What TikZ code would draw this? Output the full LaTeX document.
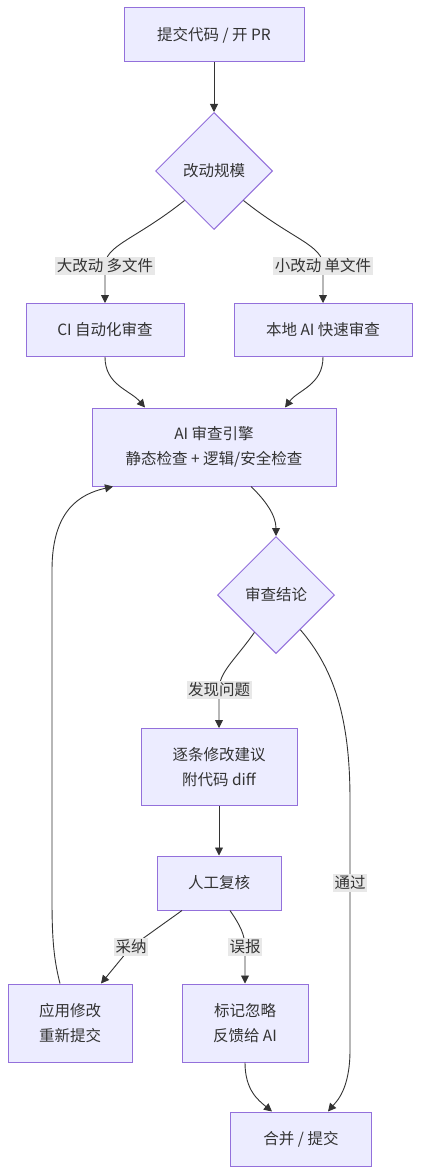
\documentclass[tikz,border=0pt]{standalone}
\usepackage{fontspec}
\usepackage{xcolor}
\usepackage{tikz}
\usetikzlibrary{shapes.geometric,arrows.meta}
\newfontfamily\cjk{Noto Sans CJK SC}
\definecolor{ink}{HTML}{333333}
\definecolor{lav}{HTML}{ECECFF}
\definecolor{purp}{HTML}{9370DB}
\definecolor{tagbg}{HTML}{E8E8E8}
\tikzset{
  txt/.style={text=ink, font=\cjk\fontsize{15.5}{25}\selectfont},
  box/.style={txt, draw=purp, fill=lav, line width=1pt, align=center, inner sep=0pt},
  choice/.style={txt, diamond, draw=purp, fill=lav, line width=1pt, aspect=1, inner sep=0pt, minimum width=117pt, minimum height=117pt},
  tag/.style={txt, fill=tagbg, inner sep=1.5pt},
  link/.style={draw=ink, line width=0.9pt, -{Triangle[length=8pt,width=8pt]}}
}
\begin{document}
\begin{tikzpicture}[x=1pt,y=-1pt]
  \fill[white] (0,0) rectangle (420,1174);
  \useasboundingbox (0,0) rectangle (420,1174);

  \node[box, minimum width=180pt, minimum height=54pt] (submit) at (214,35) {提交代码 / 开 PR};
  \node[choice] (size) at (214,171) {改动规模};
  \node[box, minimum width=158pt, minimum height=53pt] (ci) at (105,330) {CI 自动化审查};
  \node[box, minimum width=178pt, minimum height=53pt] (local) at (323,330) {本地 AI 快速审查};
  \node[box, minimum width=244pt, minimum height=78pt] (engine) at (214,447) {AI 审查引擎\\静态检查 + 逻辑/安全检查};
  \node[choice] (verdict) at (276,595) {审查结论};
  \node[box, minimum width=156pt, minimum height=77pt] (suggest) at (219,767) {逐条修改建议\\附代码 diff};
  \node[box, minimum width=124pt, minimum height=54pt] (review) at (219,883) {人工复核};
  \node[box, minimum width=124pt, minimum height=78pt] (apply) at (70,1023) {应用修改\\重新提交};
  \node[box, minimum width=126pt, minimum height=78pt] (ignore) at (245,1023) {标记忽略\\反馈给 AI};
  \node[box, minimum width=141pt, minimum height=54pt] (merge) at (301,1139) {合并 / 提交};

  \draw[link] (submit) -- (size);
  \draw[link] (size.south west) .. controls (135,240) and (105,245) .. (105,266) -- node[tag, pos=0] {大改动 多文件} (ci);
  \draw[link] (size.south east) .. controls (293,240) and (323,245) .. (323,266) -- node[tag, pos=0] {小改动 单文件} (local);
  \draw[link] (ci.south) .. controls (105,385) and (130,390) .. ([xshift=-69pt]engine.north);
  \draw[link] (local.south) .. controls (323,385) and (298,390) .. ([xshift=71pt]engine.north);
  \draw[link] ([xshift=37pt]engine.south) .. controls (265,500) and (276,515) .. (verdict.north);
  \draw[link] (verdict.240) .. controls (235,660) and (219,672) .. (219,690) -- node[tag, pos=0] {发现问题} (suggest);
  \draw[link] (verdict.305) .. controls (335,670) and (350,720) .. (350,800) -- (350,883) node[tag] {通过} -- (350,1050) .. controls (350,1090) and (336,1102) .. ([xshift=27pt]merge.north);
  \draw[link] (suggest) -- (review);
  \draw[link] ([xshift=-37pt]review.south) -- (131,947) node[tag] {采纳} -- ([xshift=31pt]apply.north);
  \draw[link] ([xshift=11pt]review.south) .. controls (240,925) and (245,935) .. (245,947) -- node[tag, pos=0] {误报} (ignore);
  \draw[link] ([xshift=-10pt]apply.north) .. controls (54,960) and (52,940) .. (52,900) -- (52,570) .. controls (52,510) and (80,494) .. ([xshift=-101pt]engine.south);
  \draw[link] (ignore.south) .. controls (245,1090) and (258,1100) .. ([xshift=-29pt]merge.north);
\end{tikzpicture}
\end{document}
